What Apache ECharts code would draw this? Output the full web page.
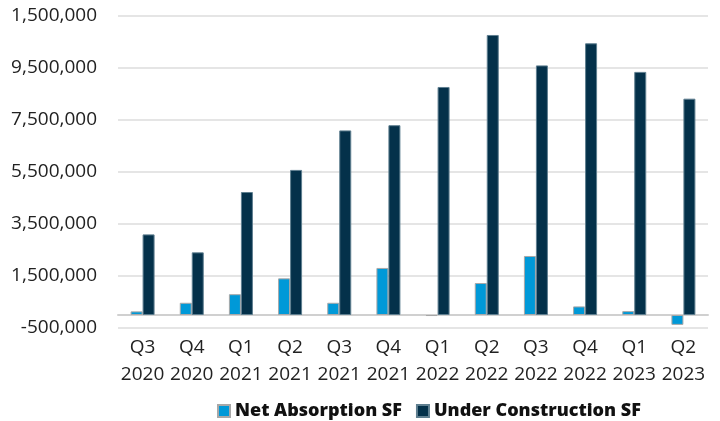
<!DOCTYPE html>
<html>
<head>
<meta charset="utf-8">
<script src="https://cdn.jsdelivr.net/npm/echarts@6/dist/echarts.min.js"></script>
<style>
  html, body { margin: 0; padding: 0; background: #fff; }
  #chart { width: 720px; height: 421px; }
</style>
</head>
<body>
<div id="chart"></div>
<script>
var quarters = ['Q3','Q4','Q1','Q2','Q3','Q4','Q1','Q2','Q3','Q4','Q1','Q2'];
var years = ['2020','2020','2021','2021','2021','2021','2022','2022','2022','2022','2023','2023'];
var netAbsorption = [140000, 470000, 800000, 1410000, 470000, 1810000, -40000, 1230000, 2270000, 330000, 150000, -380000];
var underConstruction = [3100000, 2410000, 4730000, 5580000, 7100000, 7300000, 8770000, 10770000, 9600000, 10450000, 9350000, 8320000];
// labels as shown on the source chart (top one reads 1,500,000)
var yTickLabels = ['-500,000','1,500,000','3,500,000','5,500,000','7,500,000','9,500,000','1,500,000'];

var categories = quarters.map(function (q, i) { return q + '\n' + years[i]; });

var chart = echarts.init(document.getElementById('chart'));
var fontFamily = '"Open Sans", sans-serif';

var option = {
    animation: false,
    grid: {
        left: 118,
        right: 12,
        top: 16,
        bottom: 93,
        containLabel: false
    },
    legend: {
        top: 397,
        left: 212,
        itemWidth: 12,
        itemHeight: 12,
        itemGap: 14,
        icon: 'rect',
        textStyle: { fontFamily: fontFamily, fontSize: 18, fontWeight: 800, color: '#111' },
        data: ['Net Absorption SF', 'Under Construction SF']
    },
    xAxis: {
        type: 'category',
        data: categories,
        axisTick: { show: false },
        axisLine: { onZero: true, lineStyle: { color: '#d0d0d0', width: 2 } },
        axisLabel: {
            interval: 0,
            margin: 6,
            fontFamily: fontFamily,
            fontSize: 19,
            lineHeight: 27,
            color: '#222'
        }
    },
    yAxis: {
        type: 'value',
        min: -500000,
        max: 11500000,
        interval: 2000000,
        axisLine: { show: false },
        axisTick: { show: false },
        splitLine: { lineStyle: { color: '#dcdcdc', width: 1.5 } },
        axisLabel: {
            margin: 21,
            fontFamily: fontFamily,
            fontSize: 19,
            color: '#222',
            formatter: function (v) {
                var idx = Math.round((v + 500000) / 2000000);
                return yTickLabels[idx] !== undefined ? yTickLabels[idx] : '';
            }
        }
    },
    series: [
        {
            name: 'Net Absorption SF',
            type: 'bar',
            data: netAbsorption,
            barWidth: 12,
            barGap: '0%',
            itemStyle: { color: '#0099d8', borderColor: '#a8a8a8', borderWidth: 1 }
        },
        {
            name: 'Under Construction SF',
            type: 'bar',
            data: underConstruction,
            barWidth: 12,
            itemStyle: { color: '#04314a', borderColor: '#5f7f90', borderWidth: 1 }
        }
    ]
};
chart.setOption(option);
</script>
</body>
</html>
